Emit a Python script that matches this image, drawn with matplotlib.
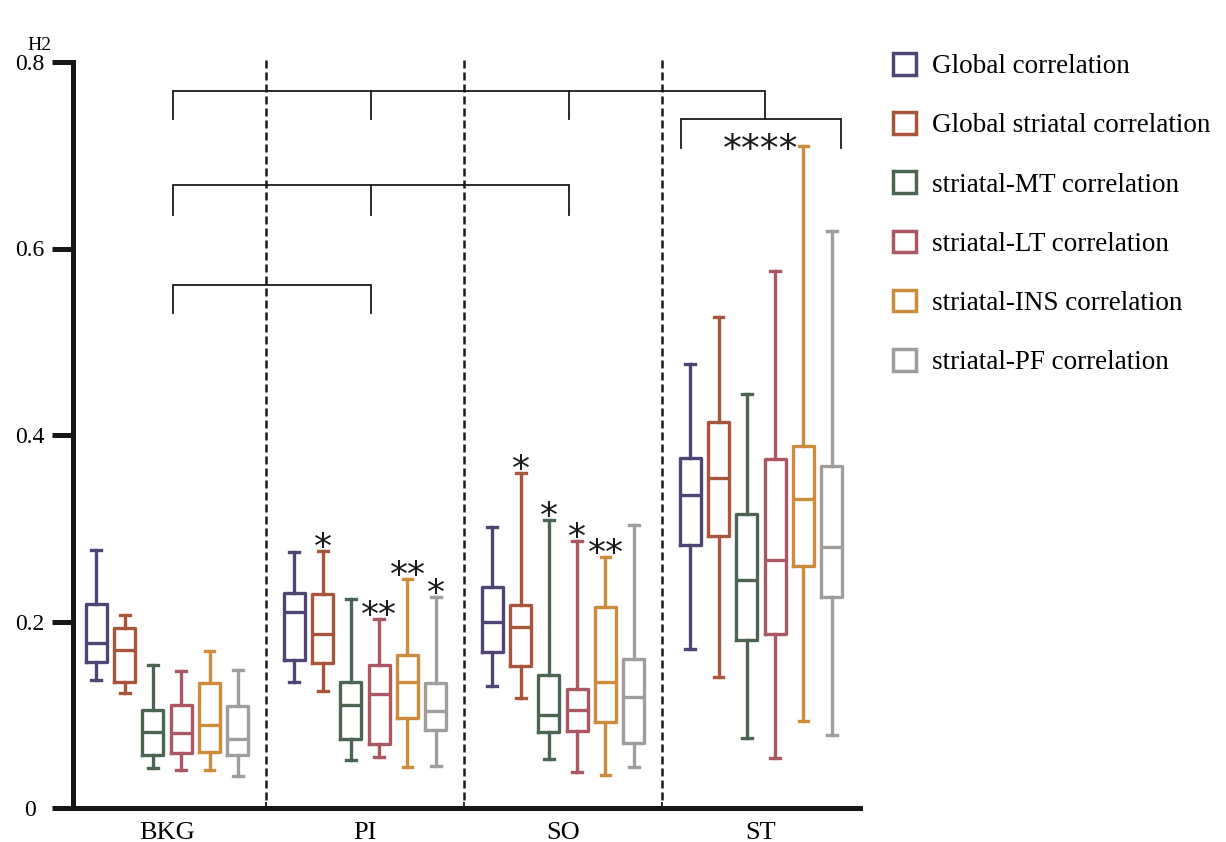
import matplotlib
matplotlib.use("Agg")
import matplotlib.pyplot as plt
from matplotlib.patches import Patch

plt.rcParams['font.family'] = ['Liberation Serif', 'DejaVu Serif']

groups = ['BKG', 'PI', 'SO', 'ST']
series = ['Global correlation', 'Global striatal correlation', 'striatal-MT correlation',
          'striatal-LT correlation', 'striatal-INS correlation', 'striatal-PF correlation']
colors = ['#4f4474', '#a8553b', '#4b6552', '#ab5763', '#cd8b3c', '#a09d9b']

# per group: one row per series -> [whislo, q1, median, q3, whishi]
bkg_stats = [[0.137, 0.157, 0.177, 0.219, 0.277],
             [0.123, 0.135, 0.169, 0.193, 0.207],
             [0.043, 0.057, 0.082, 0.105, 0.153],
             [0.041, 0.059, 0.080, 0.110, 0.147],
             [0.041, 0.060, 0.089, 0.134, 0.168],
             [0.034, 0.057, 0.074, 0.109, 0.148]]
pi_stats = [[0.135, 0.159, 0.210, 0.231, 0.275],
            [0.125, 0.156, 0.187, 0.229, 0.276],
            [0.052, 0.074, 0.110, 0.135, 0.224],
            [0.055, 0.069, 0.122, 0.153, 0.203],
            [0.044, 0.097, 0.135, 0.164, 0.246],
            [0.045, 0.084, 0.104, 0.134, 0.226]]
so_stats = [[0.131, 0.167, 0.199, 0.237, 0.301],
            [0.118, 0.152, 0.194, 0.218, 0.359],
            [0.053, 0.082, 0.100, 0.143, 0.309],
            [0.039, 0.083, 0.105, 0.128, 0.286],
            [0.035, 0.092, 0.135, 0.216, 0.269],
            [0.044, 0.070, 0.119, 0.160, 0.303]]
st_stats = [[0.170, 0.282, 0.336, 0.375, 0.476],
            [0.140, 0.292, 0.354, 0.414, 0.527],
            [0.075, 0.180, 0.245, 0.315, 0.444],
            [0.054, 0.187, 0.266, 0.374, 0.576],
            [0.093, 0.259, 0.331, 0.388, 0.710],
            [0.078, 0.226, 0.280, 0.367, 0.619]]
all_stats = [bkg_stats, pi_stats, so_stats, st_stats]

# significance marks: (group index, series index, text)
stars = [(1, 1, '*'), (1, 3, '**'), (1, 4, '**'), (1, 5, '*'),
         (2, 1, '*'), (2, 2, '*'), (2, 3, '*'), (2, 4, '**')]

# comparison brackets: (y of bar, y of legs end, x positions of legs)
brackets = [(0.769, 0.739, [0.03, 1.03, 2.03, 3.02]),
            (0.668, 0.636, [0.03, 1.03, 2.03]),
            (0.561, 0.531, [0.03, 1.03])]
st_bracket = (0.739, 0.708, [2.596, 3.404])
st_text = '****'

W, H = 1226, 842
fig = plt.figure(figsize=(W / 100, H / 100), dpi=100)
ax = fig.add_axes([73 / W, 1 - 808 / H, (860 - 73) / W, (808 - 62) / H])

step = 0.143
for g, gstats in enumerate(all_stats):
    for i, st in enumerate(gstats):
        c = colors[i]
        d = dict(whislo=st[0], q1=st[1], med=st[2], q3=st[3], whishi=st[4], fliers=[])
        pos = g + (i - 2.5) * step
        lp = dict(color=c, linewidth=2.4)
        ax.bxp([d], positions=[pos], widths=0.106, capwidths=0.05, showfliers=False,
               boxprops=lp, whiskerprops=lp, capprops=lp, medianprops=lp)

for g, i, t in stars:
    pos = g + (i - 2.5) * step
    top = all_stats[g][i][4]
    ax.text(pos, top - 0.015, t, ha='center', va='bottom', fontsize=26,
            family='DejaVu Sans', color='#1a1a1a')

for yb, yl, xs in brackets + [st_bracket]:
    ax.plot([xs[0], xs[-1]], [yb, yb], color='#1a1a1a', lw=1.3, solid_capstyle='butt')
    for x in xs:
        ax.plot([x, x], [yb, yl], color='#1a1a1a', lw=1.3)
ax.text(3.0, 0.709, st_text, ha='center', va='center_baseline', fontsize=27,
        family='DejaVu Sans', color='#1a1a1a')

for xb in [0.5, 1.5, 2.5]:
    ax.plot([xb, xb], [0.009, 0.802], color='#1a1a1a', lw=1.8,
            linestyle=(0, (3.2, 1.6)), clip_on=False)

ax.set_xlim(-0.475, 3.5)
ax.set_ylim(0, 0.8)
for s in ['top', 'right']:
    ax.spines[s].set_visible(False)
for s in ['left', 'bottom']:
    ax.spines[s].set_linewidth(3.6)
    ax.spines[s].set_color('#161616')

ax.set_yticks([0, 0.2, 0.4, 0.6, 0.8])
ax.set_yticklabels(['0', '0.2', '0.4', '0.6', '0.8'])
ax.tick_params(axis='y', direction='out', length=15, width=3.6, color='#161616',
               labelsize=17, pad=16)
for lab in ax.get_yticklabels():
    lab.set_horizontalalignment('center')
ax.set_xticks(range(len(groups)))
ax.set_xticklabels(groups)
ax.tick_params(axis='x', length=0, labelsize=19, pad=10)
ax.set_xticks([0.5, 1.5, 2.5], minor=True)
ax.tick_params(axis='x', which='minor', direction='in', length=4, width=1.3, color='#161616')

fig.text(39 / W, 1 - 46 / H, 'H2', ha='center', va='center', fontsize=14)

handles = [Patch(facecolor='white', edgecolor=c, linewidth=2.5) for c in colors]
ax.legend(handles, series, loc='upper left', bbox_to_anchor=(893 / W, 1 - 53 / H),
          bbox_transform=fig.transFigure, frameon=False, fontsize=19.5,
          handlelength=0.85, handleheight=0.85, handletextpad=0.6,
          labelspacing=1.22, borderpad=0, borderaxespad=0)

fig.savefig('out.png', dpi=100, facecolor='white')
